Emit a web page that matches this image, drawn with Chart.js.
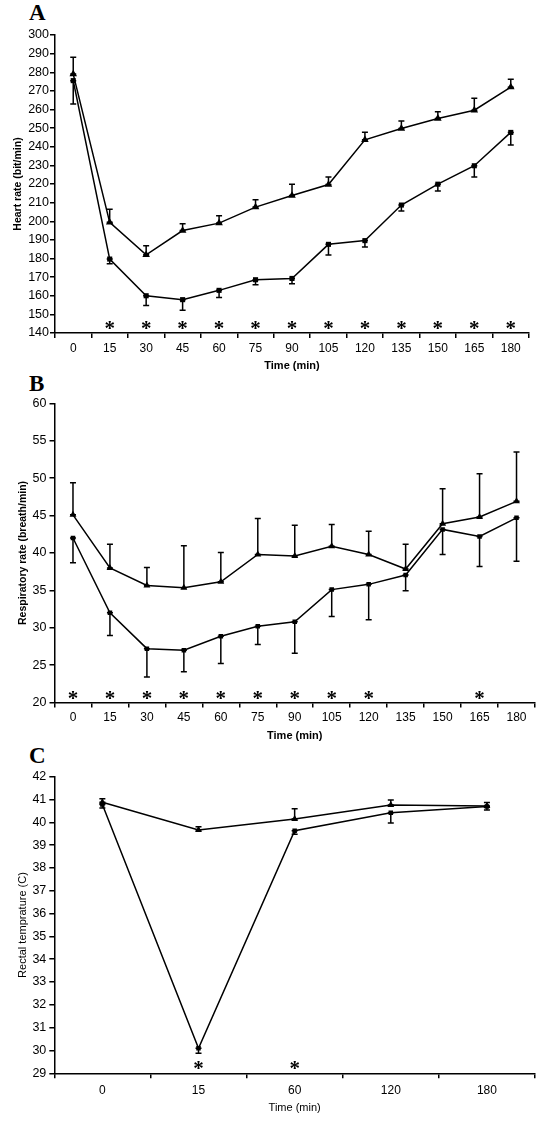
<!DOCTYPE html>
<html>
<head>
<meta charset="utf-8">
<script src="https://cdn.jsdelivr.net/npm/chart.js@4.4.1/dist/chart.umd.min.js"></script>
<style>
body{margin:0;background:#fff;width:550px;height:1122px;position:relative;overflow:hidden}
.panel{position:absolute;left:0;width:550px}
.letter{position:absolute;left:29px;font:bold 23px/23px "Liberation Serif",serif;color:#000}
</style>
</head>
<body>
<div class="letter" style="top:1px">A</div>
<div class="letter" style="top:372px">B</div>
<div class="letter" style="top:744px">C</div>
<div class="panel" style="top:0;height:378px"><canvas id="chartA"></canvas></div>
<div class="panel" style="top:372px;height:378px"><canvas id="chartB"></canvas></div>
<div class="panel" style="top:740px;height:382px"><canvas id="chartC"></canvas></div>
<script>
// A - heart rate
var timeA = ['0','15','30','45','60','75','90','105','120','135','150','165','180'];
var hrTri = [279, 199.4, 182, 195, 199, 207.6, 213.8, 219.7, 243.7, 249.8, 255.2, 259.6, 272];
var hrTriErr = [9, 7, 4.8, 3.6, 4, 3.9, 6, 4, 4.1, 4, 3.6, 6.5, 4.2];
var hrSq = [275.5, 179.7, 160, 157.9, 162.9, 168.6, 169.3, 187.6, 189.6, 208.7, 219.9, 229.8, 247.7];
var hrSqErr = [12.5, 2.5, 5.3, 5.7, 3.8, 2.7, 2.8, 5.7, 3.4, 3.2, 3.6, 6.1, 6.8];
var sigA = ['15','30','45','60','75','90','105','120','135','150','165','180'];

// B - respiratory rate
var timeB = ['0','15','30','45','60','75','90','105','120','135','150','165','180'];
var rrTri = [45.1, 38.0, 35.65, 35.35, 36.15, 39.8, 39.6, 40.9, 39.8, 37.85, 43.9, 44.8, 46.9];
var rrTriErr = [4.3, 3.15, 2.4, 5.6, 3.9, 4.8, 4.1, 2.9, 3.1, 3.3, 4.7, 5.8, 6.6];
var rrSq = [42.0, 32.0, 27.2, 27.0, 28.85, 30.2, 30.8, 35.1, 35.8, 37.05, 43.15, 42.2, 44.7];
var rrSqErr = [3.3, 3.05, 3.8, 2.9, 3.65, 2.45, 4.2, 3.6, 4.75, 2.1, 3.35, 4.0, 5.8];
var sigB = ['0','15','30','45','60','75','90','105','120','165'];

// C - rectal temperature
var timeC = ['0','15','60','120','180'];
var tTri = [40.88, 39.66, 40.15, 40.76, 40.72];
var tTriErr = [0.15, 0.15, 0.45, 0.22, 0.15];
var tSq = [40.78, 30.1, 39.63, 40.42, 40.69];
var tSqErr = [0.15, 0.22, 0.15, 0.45, 0.15];
var sigC = ['15','60'];

Chart.defaults.color = '#000';
Chart.defaults.font.family = '"Liberation Sans", Arial, sans-serif';
Chart.defaults.animation = false;

var errorBars = {
	id: 'errorBars',
	beforeDatasetsDraw: function(chart) {
		var ctx = chart.ctx, y = chart.scales.y;
		ctx.save();
		ctx.strokeStyle = '#000';
		ctx.lineWidth = 1.5;
		chart.data.datasets.forEach(function(ds, i) {
			var meta = chart.getDatasetMeta(i);
			meta.data.forEach(function(pt, j) {
				var v = ds.data[j];
				var py = y.getPixelForValue(v);
				var end = y.getPixelForValue(v + ds.errDir * ds.err[j]);
				ctx.beginPath();
				ctx.moveTo(pt.x, py);
				ctx.lineTo(pt.x, end);
				ctx.moveTo(pt.x - 3, end);
				ctx.lineTo(pt.x + 3, end);
				ctx.moveTo(pt.x - 3, py);
				ctx.lineTo(pt.x + 3, py);
				ctx.stroke();
			});
		});
		ctx.restore();
	}
};

var sigMarks = {
	id: 'sigMarks',
	afterDatasetsDraw: function(chart, args, opts) {
		var ctx = chart.ctx, x = chart.scales.x, y = chart.scales.y;
		var labels = chart.data.labels;
		ctx.save();
		ctx.font = 'bold 21px "Liberation Serif", serif';
		ctx.textAlign = 'center';
		ctx.textBaseline = 'alphabetic';
		ctx.fillStyle = '#000';
		opts.labels.forEach(function(l) {
			ctx.fillText('*', x.getPixelForValue(labels.indexOf(l)), y.bottom + opts.dy);
		});
		ctx.restore();
	}
};

function makeChart(id, cfg) {
	var sets = [
		{data: cfg.tri, err: cfg.triErr, errDir: 1, pointStyle: 'triangle', pointRadius: cfg.triR},
		{data: cfg.sq, err: cfg.sqErr, errDir: -1, pointStyle: 'rect', pointRadius: cfg.sqR}
	];
	sets.forEach(function(s) {
		s.borderColor = '#000';
		s.backgroundColor = '#000';
		s.borderWidth = 1.5;
		s.pointBorderWidth = 0;
		s.tension = 0;
		s.fill = false;
	});
	return new Chart(document.getElementById(id), {
		type: 'line',
		data: {labels: cfg.labels, datasets: sets},
		options: {
			responsive: true,
			maintainAspectRatio: false,
			layout: {padding: {top: cfg.padTop, right: cfg.padRight, bottom: 0, left: 0}},
			plugins: {
				legend: {display: false},
				tooltip: {enabled: false},
				sigMarks: {labels: cfg.sig, dy: 2}
			},
			scales: {
				x: {
					type: 'category',
					offset: true,
					border: {color: '#000', width: 1.5},
					grid: {offset: true, drawOnChartArea: false, color: '#000', lineWidth: 1.5, tickLength: 5},
					ticks: {font: {size: 12}, padding: cfg.xTickPad, maxRotation: 0, autoSkip: false},
					title: {display: true, text: 'Time (min)', font: {size: 11, weight: cfg.bold ? 'bold' : 'normal'}, padding: {top: 0, bottom: cfg.xTitlePad}},
					afterFit: function(s) { s.height = cfg.xHeight; }
				},
				y: {
					min: cfg.yMin,
					max: cfg.yMax,
					border: {color: '#000', width: 1.5},
					grid: {drawOnChartArea: false, color: '#000', lineWidth: 1.5, tickLength: 5},
					ticks: {stepSize: cfg.yStep, font: {size: 12.5}, padding: cfg.yTickPad},
					title: {display: true, text: cfg.yTitle, font: {size: cfg.bold ? 10.5 : 11, weight: cfg.bold ? 'bold' : 'normal'}, padding: {top: cfg.yTitlePad, bottom: 0}},
					afterFit: function(s) { s.width = cfg.yWidth; }
				}
			}
		},
		plugins: [errorBars, sigMarks]
	});
}

makeChart('chartA', {
	labels: timeA, tri: hrTri, triErr: hrTriErr, sq: hrSq, sqErr: hrSqErr, sig: sigA,
	triR: 4.4, sqR: 3.6, yMin: 140, yMax: 300, yStep: 10, yTitle: 'Heart rate (bit/min)', bold: true,
	padTop: 35, padRight: 21, xHeight: 45, yWidth: 55, xTickPad: 3.8, xTitlePad: 5.4, yTickPad: 1, yTitlePad: 11.4
});
makeChart('chartB', {
	labels: timeB, tri: rrTri, triErr: rrTriErr, sq: rrSq, sqErr: rrSqErr, sig: sigB,
	triR: 4, sqR: 3.2, yMin: 20, yMax: 60, yStep: 5, yTitle: 'Respiratory rate (breath/min)', bold: true,
	padTop: 31.4, padRight: 15, xHeight: 47.5, yWidth: 54.5, xTickPad: 2.6, xTitlePad: 7.4, yTickPad: 3, yTitlePad: 16.7
});
makeChart('chartC', {
	labels: timeC, tri: tTri, triErr: tTriErr, sq: tSq, sqErr: tSqErr, sig: sigC,
	triR: 4, sqR: 3.2, yMin: 29, yMax: 42, yStep: 1, yTitle: 'Rectal temprature (C)', bold: false,
	padTop: 36.7, padRight: 15, xHeight: 48.7, yWidth: 54.3, xTickPad: 5.2, xTitlePad: 7.4, yTickPad: 3, yTitlePad: 16.2
});
</script>
</body>
</html>
